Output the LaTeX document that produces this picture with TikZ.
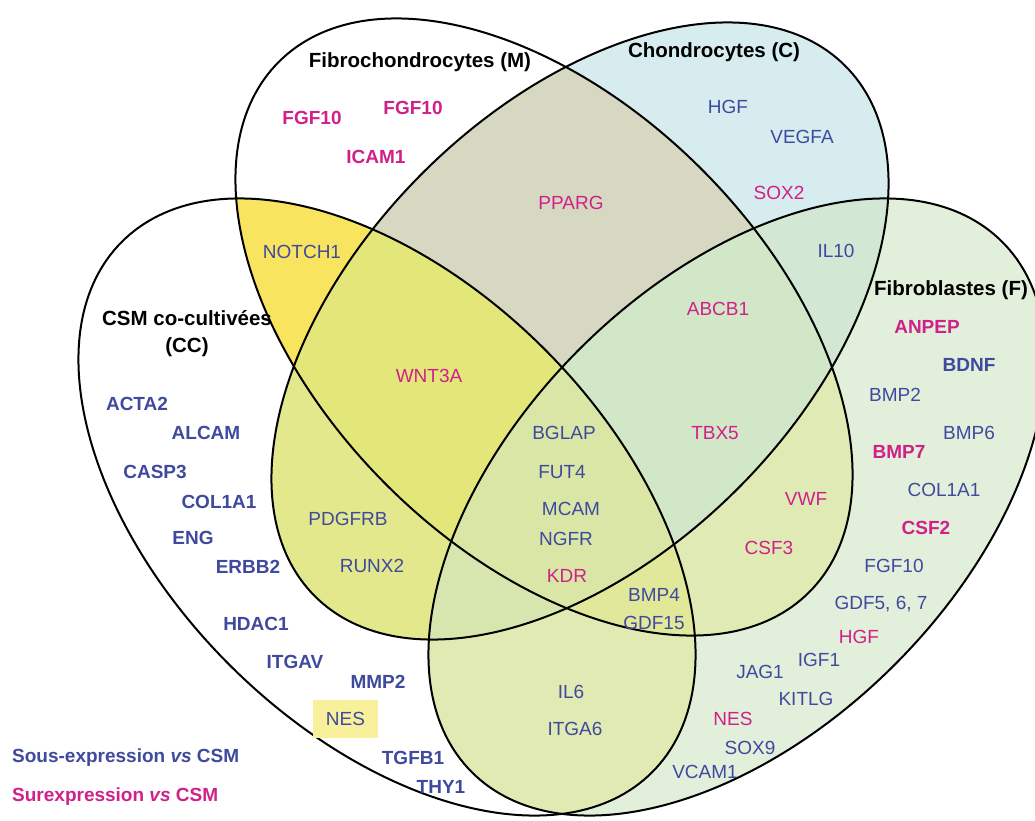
\documentclass[tikz,border=0pt]{standalone}
\usepackage{fontspec}
\setmainfont{Liberation Sans}
\definecolor{cC}{HTML}{D7ECEF}
\definecolor{cF}{HTML}{E2EFDA}
\definecolor{cMC}{HTML}{D6D8C2}
\definecolor{cMCC}{HTML}{F8E45E}
\definecolor{cMF}{HTML}{DFEAB4}
\definecolor{cCCC}{HTML}{E3E88C}
\definecolor{cCF}{HTML}{D2E8D4}
\definecolor{cCCF}{HTML}{E0EAB2}
\definecolor{cMCCC}{HTML}{E3E77A}
\definecolor{cMCF}{HTML}{D2E6C8}
\definecolor{cMCCF}{HTML}{E2E89A}
\definecolor{cCCCF}{HTML}{D7E6AE}
\definecolor{cAll}{HTML}{D9E6A6}
\definecolor{nesbox}{HTML}{F8F09A}
\definecolor{gblue}{HTML}{3F4A9E}
\definecolor{gmag}{HTML}{D0218A}
\newcommand\eM[1]{\path[#1,rotate around={-45:(544,327)}] (544,327) ellipse [x radius=375pt,y radius=223pt];}
\newcommand\eC[1]{\path[#1,rotate around={45:(580,331)}] (580,331) ellipse [x radius=375pt,y radius=223pt];}
\newcommand\eCC[1]{\path[#1,rotate around={-45:(387,507)}] (387,507) ellipse [x radius=375pt,y radius=223pt];}
\newcommand\eF[1]{\path[#1,rotate around={45:(737,507)}] (737,507) ellipse [x radius=375pt,y radius=223pt];}
\tikzset{
  lbl/.style={inner sep=0pt, font=\fontsize{19pt}{22pt}\selectfont},
  gb/.style={lbl, text=gblue},
  gm/.style={lbl, text=gmag},
  gbb/.style={gb, font=\fontsize{19pt}{22pt}\selectfont\bfseries},
  gmb/.style={gm, font=\fontsize{19pt}{22pt}\selectfont\bfseries},
  ttl/.style={inner sep=0pt, text=black, align=center, font=\fontsize{20.5pt}{27pt}\selectfont\bfseries},
  outline/.style={draw=black, line width=2pt}
}
\begin{document}
\begin{tikzpicture}[x=1pt,y=-1pt]
\fill[white] (0,0) rectangle (1035,821);
\useasboundingbox (0,0) rectangle (1035,821);
% single sets
\eC{fill=cC}
\eF{fill=cF}
% pairs
\begin{scope}\eM{clip}\eC{fill=cMC}\end{scope}
\begin{scope}\eM{clip}\eCC{fill=cMCC}\end{scope}
\begin{scope}\eM{clip}\eF{fill=cMF}\end{scope}
\begin{scope}\eC{clip}\eCC{fill=cCCC}\end{scope}
\begin{scope}\eC{clip}\eF{fill=cCF}\end{scope}
\begin{scope}\eCC{clip}\eF{fill=cCCF}\end{scope}
% triples
\begin{scope}\eM{clip}\eC{clip}\eCC{fill=cMCCC}\end{scope}
\begin{scope}\eM{clip}\eC{clip}\eF{fill=cMCF}\end{scope}
\begin{scope}\eM{clip}\eCC{clip}\eF{fill=cMCCF}\end{scope}
\begin{scope}\eC{clip}\eCC{clip}\eF{fill=cCCCF}\end{scope}
% all four
\begin{scope}\eM{clip}\eC{clip}\eCC{clip}\eF{fill=cAll}\end{scope}
% outlines
\eM{outline}
\eC{outline}
\eCC{outline}
\eF{outline}
% titles
\node[ttl] (tM) at (420,62) {Fibrochondrocytes (M)};
\node[ttl] (tC) at (714,52) {Chondrocytes (C)};
\node[ttl] (tCC) at (187,334) {CSM co-cultivées\\(CC)};
\node[ttl] (tF) at (951,290) {Fibroblastes (F)};
% M only
\node[gmb] (m1) at (312,118) {FGF10};
\node[gmb] (m2) at (413,108) {FGF10};
\node[gmb] (m3) at (376,157) {ICAM1};
% M and CC
\node[gb] (mcc1) at (302,252) {NOTCH1};
% M C CC
\node[gm] (mccc1) at (429,376) {WNT3A};
% M and C
\node[gm] (mc1) at (571,203) {PPARG};
% C only
\node[gb] (c1) at (728,107) {HGF};
\node[gb] (c2) at (802,137) {VEGFA};
\node[gm] (c3) at (779,193) {SOX2};
% C and F
\node[gb] (cf1) at (836,251) {IL10};
% M C F
\node[gm] (mcf1) at (718,309) {ABCB1};
\node[gm] (mcf2) at (715,433) {TBX5};
% F only
\node[gmb] (f1) at (927,327) {ANPEP};
\node[gbb] (f2) at (969,365) {BDNF};
\node[gb] (f3) at (895,395) {BMP2};
\node[gb] (f4) at (969,433) {BMP6};
\node[gmb] (f5) at (899,452) {BMP7};
\node[gb] (f6) at (944,490) {COL1A1};
\node[gmb] (f7) at (926,528) {CSF2};
\node[gb] (f8) at (894,566) {FGF10};
\node[gb] (f9) at (881,604) {GDF5, 6, 7};
\node[gm] (f10) at (859,637) {HGF};
\node[gb] (f11) at (819,660) {IGF1};
\node[gb] (f12) at (760,672) {JAG1};
\node[gb] (f13) at (806,699) {KITLG};
\node[gm] (f14) at (733,719) {NES};
\node[gb] (f15) at (750,748) {SOX9};
\node[gb] (f16) at (705,772) {VCAM1};
% M and F
\node[gm] (mf1) at (806,499) {VWF};
\node[gm] (mf2) at (769,548) {CSF3};
% all four
\node[gb] (a1) at (564,433) {BGLAP};
\node[gb] (a2) at (562,472) {FUT4};
\node[gb] (a3) at (571,509) {MCAM};
\node[gb] (a4) at (566,539) {NGFR};
\node[gm] (a5) at (567,576) {KDR};
% M CC F
\node[gb] (mccf1) at (654,595) {BMP4};
\node[gb] (mccf2) at (654,623) {GDF15};
% CC and F
\node[gb] (ccf1) at (571,692) {IL6};
\node[gb] (ccf2) at (575,729) {ITGA6};
% C and CC
\node[gb] (ccc1) at (348,519) {PDGFRB};
\node[gb] (ccc2) at (372,566) {RUNX2};
% CC only
\node[gbb] (cc1) at (137,404) {ACTA2};
\node[gbb] (cc2) at (206,433) {ALCAM};
\node[gbb] (cc3) at (155,472) {CASP3};
\node[gbb] (cc4) at (219,502) {COL1A1};
\node[gbb] (cc5) at (193,538) {ENG};
\node[gbb] (cc6) at (248,567) {ERBB2};
\node[gbb] (cc7) at (256,624) {HDAC1};
\node[gbb] (cc8) at (295,662) {ITGAV};
\node[gbb] (cc9) at (378,682) {MMP2};
\node[gb, fill=nesbox, minimum width=65pt, minimum height=38pt] (cc10) at (345.5,719) {NES};
\node[gbb] (cc11) at (413,758) {TGFB1};
\node[gbb] (cc12) at (441,787) {THY1};
% legend
\node[gbb, anchor=west] (leg1) at (12,758) {Sous-expression \textit{vs} CSM};
\node[gmb, anchor=west] (leg2) at (12,797) {Surexpression \textit{vs} CSM};
\end{tikzpicture}
\end{document}
